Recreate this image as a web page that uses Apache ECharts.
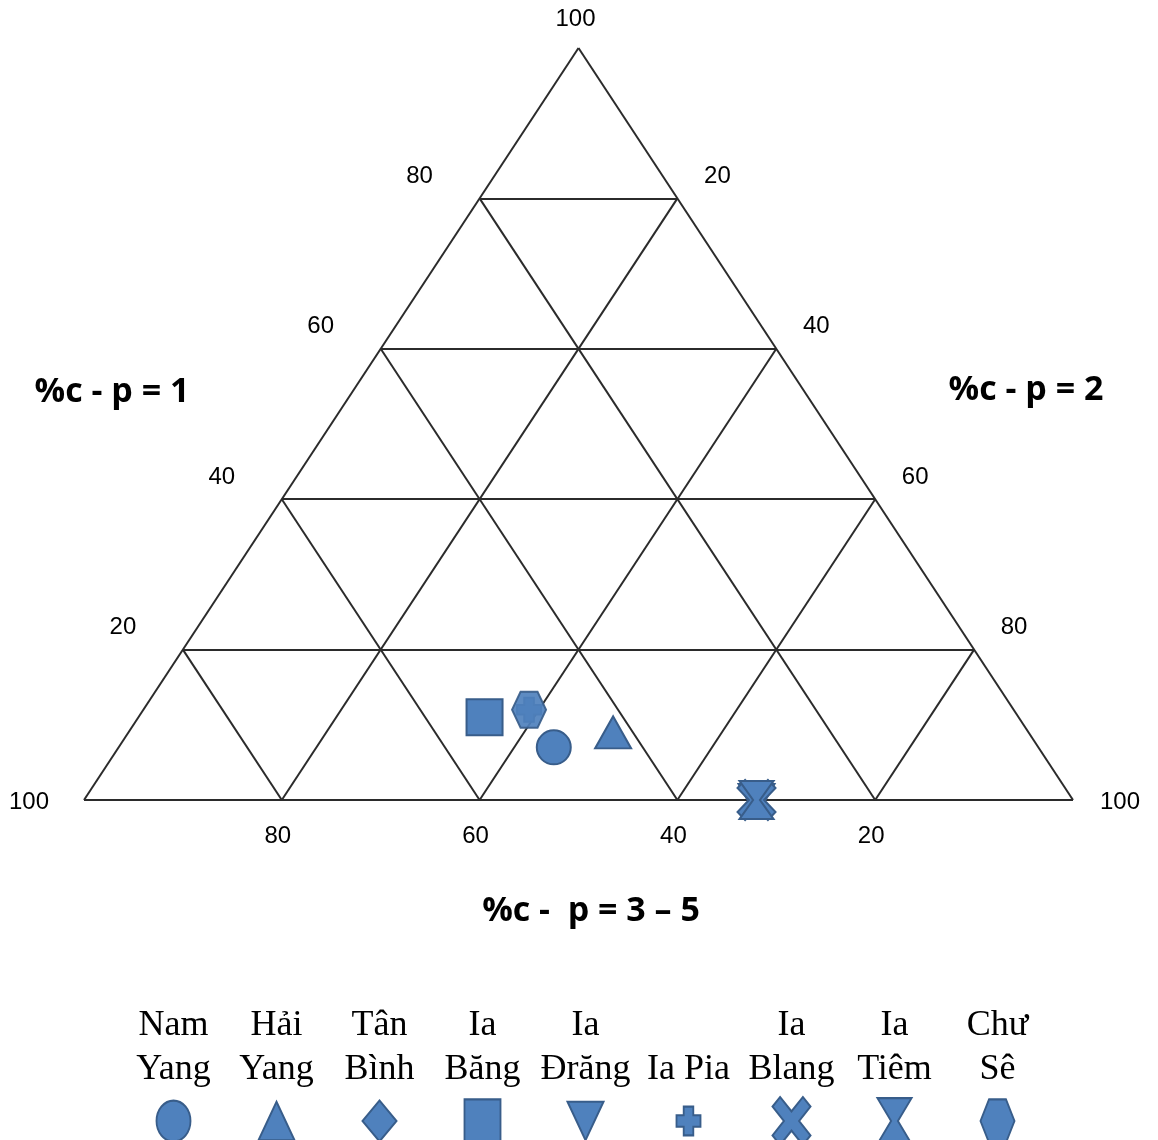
<!DOCTYPE html>
<html>
<head>
<meta charset="utf-8">
<script src="https://cdn.jsdelivr.net/npm/echarts/dist/echarts.min.js"></script>
<style>
  html, body { margin: 0; padding: 0; background: #fff; }
  #chart { width: 1158px; height: 1140px; }
</style>
</head>
<body>
<div id="chart"></div>
<script>
// sites (legend order) and their % shares: p = 1 (top), p = 2 (right), p = 3-5 (left)
const siteNames = ['Nam\nYang', 'Hải\nYang', 'Tân\nBình', 'Ia\nBăng', 'Ia\nĐrăng', '\nIa Pia', 'Ia\nBlang', 'Ia\nTiêm', 'Chư\nSê'];
const pctP1  = [7, 9, 11, 11, 0, 12, 0, 0, 12];
const pctP2  = [44, 49, 35, 35, 68, 39, 68, 68, 39];
const pctP35 = [49, 42, 54, 54, 32, 49, 32, 32, 49];
const tickValues = [20, 40, 60, 80, 100];

const symbols = [
  'circle',
  'triangle',
  'diamond',
  'rect',
  'path://M0,0 L10,0 L5,10 Z',
  'path://M3,0 H7 V3 H10 V7 H7 V10 H3 V7 H0 V3 H3 Z',
  'path://M0,2 L2,0 L5,3 L8,0 L10,2 L7,5 L10,8 L8,10 L5,7 L2,10 L0,8 L3,5 Z',
  'path://M0,0 H10 L6,5 L10,10 H0 L4,5 Z',
  'path://M0,5 L2.5,0 H7.5 L10,5 L7.5,10 H2.5 Z'
];
const symbolSizes = [[34, 34], [36, 32], [34, 34], [36, 36], [36, 32], [24, 24], [38, 40], [34, 38], [34, 36]];

const fill = '#4F81BD';
const edge = '#385D8A';

// ternary -> cartesian (x 0..100 along base, y 0..100 up)
const toXY = (a, b) => [b + a / 2, a];

const segs = [
  [toXY(0, 0), toXY(0, 100)],
  [toXY(0, 100), toXY(100, 0)],
  [toXY(100, 0), toXY(0, 0)]
];
tickValues.filter(v => v < 100).forEach(v => {
  segs.push([toXY(v, 0), toXY(v, 100 - v)]);        // p = 1 constant
  segs.push([toXY(0, v), toXY(100 - v, v)]);        // p = 2 constant
  segs.push([toXY(0, 100 - v), toXY(100 - v, 0)]);  // p = 3-5 constant
});

const tickFont = { color: '#000', fontSize: 24, fontFamily: 'Liberation Sans' };
const tickItems = [];
tickValues.forEach(v => {
  if (v < 100) {
    tickItems.push({ value: toXY(v, 0), label: { formatter: String(v), offset: [-60, -22] } });
    tickItems.push({ value: toXY(100 - v, v), label: { formatter: String(v), offset: [40, -22] } });
    tickItems.push({ value: toXY(0, 100 - v), label: { formatter: String(v), offset: [-4, 36] } });
  } else {
    tickItems.push({ value: toXY(100, 0), label: { formatter: String(v), offset: [-3, -29] } });
    tickItems.push({ value: toXY(0, 100), label: { formatter: String(v), offset: [47, 2] } });
    tickItems.push({ value: toXY(0, 0), label: { formatter: String(v), offset: [-55, 2] } });
  }
});

const series = [
  {
    type: 'lines',
    coordinateSystem: 'cartesian2d',
    xAxisIndex: 0, yAxisIndex: 0,
    silent: true,
    lineStyle: { color: '#2b2b2b', width: 2, opacity: 1 },
    data: segs.map(c => ({ coords: c }))
  },
  {
    type: 'scatter',
    xAxisIndex: 0, yAxisIndex: 0,
    silent: true,
    symbolSize: 1,
    itemStyle: { color: 'rgba(0,0,0,0)', opacity: 1 },
    label: Object.assign({ show: true, position: 'inside' }, tickFont),
    data: tickItems
  }
];

siteNames.forEach((name, i) => {
  series.push({
    name: name,
    type: 'scatter',
    xAxisIndex: 0, yAxisIndex: 0,
    symbol: symbols[i],
    symbolSize: symbolSizes[i],
    itemStyle: { color: fill, borderColor: edge, borderWidth: 2, opacity: i === 8 ? 0.92 : 1 },
    data: [toXY(pctP1[i], pctP2[i])]
  });
});

// legend row: names on a top category axis, icons below
series.push({
  type: 'scatter',
  xAxisIndex: 1, yAxisIndex: 1,
  silent: true,
  itemStyle: { color: fill, borderColor: edge, borderWidth: 2, opacity: 1 },
  data: siteNames.map((n, i) => ({
    value: [i, 0],
    symbol: symbols[i],
    symbolSize: [symbolSizes[i][0], symbolSizes[i][1] * 1.2]
  }))
});

const titleStyle = { fontFamily: 'Open Sans', fontWeight: 'bold', fontSize: 34, fill: '#000', textAlign: 'center', textVerticalAlign: 'middle' };
const titles = [
  { x: 112, y: 392, text: '%c - p = 1' },
  { x: 1026, y: 390, text: '%c - p = 2' },
  { x: 591, y: 911, text: '%c -  p = 3 – 5' }
];

const chart = echarts.init(document.getElementById('chart'));
chart.setOption({
  animation: false,
  backgroundColor: '#fff',
  grid: [
    { left: 84, right: 85, top: 48, bottom: 340 },
    { left: 122, right: 109, top: 1102, bottom: 0 }
  ],
  xAxis: [
    { type: 'value', min: 0, max: 100, show: false, gridIndex: 0 },
    {
      type: 'category', gridIndex: 1, position: 'top',
      data: siteNames,
      axisLine: { show: false }, axisTick: { show: false }, splitLine: { show: false },
      axisLabel: {
        interval: 0, margin: 10, color: '#000',
        fontFamily: 'Liberation Serif', fontSize: 36, lineHeight: 44
      }
    }
  ],
  yAxis: [
    { type: 'value', min: 0, max: 100, show: false, gridIndex: 0 },
    { type: 'value', min: -1, max: 1, show: false, gridIndex: 1 }
  ],
  graphic: titles.map(t => ({
    type: 'text',
    x: t.x, y: t.y,
    style: Object.assign({ text: t.text }, titleStyle)
  })),
  series: series
});
</script>
</body>
</html>
